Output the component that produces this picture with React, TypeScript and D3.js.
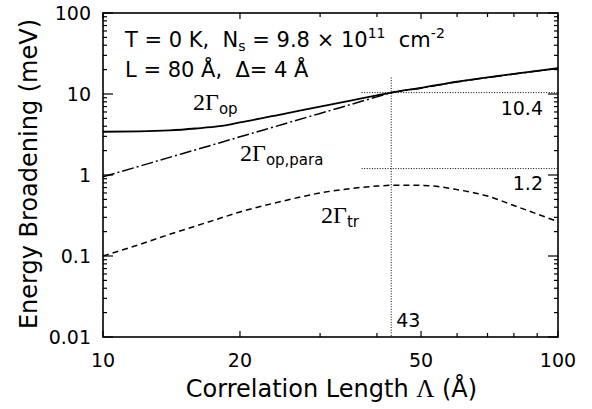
import React from "react";
import * as d3 from "d3";

// correlation length (Å) and broadening values (meV)
const lambdas = [10, 12, 14, 16, 18, 20, 25, 30, 35, 40, 43, 50, 60, 70, 80, 90, 100];
const gammaOp = [3.42, 3.45, 3.55, 3.75, 4.0, 4.45, 5.7, 7.0, 8.3, 9.6, 10.4, 11.9, 14.2, 16.0, 17.7, 19.3, 20.8];
const gammaPara = [0.95, 1.28, 1.65, 2.05, 2.49, 2.96, 4.27, 5.76, 7.41, 9.22, 10.35, 11.8, 14.1, 15.95, 17.6, 19.2, 20.7];
const gammaTr = [0.1, 0.138, 0.185, 0.235, 0.29, 0.35, 0.48, 0.6, 0.68, 0.73, 0.745, 0.745, 0.66, 0.55, 0.42, 0.33, 0.265];

const xMajorTicks = [10, 20, 50, 100];
const xMinorTicks = [30, 40, 60, 70, 80, 90];
const yDecades = [0.01, 0.1, 1, 10, 100];
const yTickLabels = ["0.01", "0.1", "1", "10", "100"];

// dotted guide lines
const crossLambda = 43;
const crossLabel = "43";
const guideStartLambda = 37;
const guideTopValue = 16;
const guideLevels = [10.4, 1.2];
const guideLabels = ["10.4", "1.2"];

const width = 592;
const height = 409;
const margins = { top: 13, right: 34, bottom: 72, left: 103 };

const sans = "'DejaVu Sans', sans-serif";
const serif = "'Liberation Serif', 'Times New Roman', serif";

const App = () => {
  const xScale = d3
    .scaleLog()
    .domain([10, 100])
    .range([margins.left, width - margins.right]);

  const yScale = d3
    .scaleLog()
    .domain([0.01, 100])
    .range([height - margins.bottom, margins.top]);

  const x0 = margins.left;
  const x1 = width - margins.right;
  const y0 = height - margins.bottom;
  const y1 = margins.top;

  const line = d3
    .line<number>()
    .x((d, i) => xScale(lambdas[i]))
    .y((d) => yScale(d))
    .curve(d3.curveMonotoneX);

  // minor y ticks 2..9 in each decade
  const yMinorTicks: number[] = [];
  yDecades.slice(0, -1).forEach((dec) => {
    for (let k = 2; k <= 9; k++) yMinorTicks.push(dec * k);
  });

  const xTicks = [
    ...xMajorTicks.map((v) => ({ v, len: 6 })),
    ...xMinorTicks.map((v) => ({ v, len: 4 })),
  ];
  const yTicks = [
    ...yDecades.map((v) => ({ v, len: 10 })),
    ...yMinorTicks.map((v) => ({ v, len: 4 })),
  ];

  return (
    <svg
      width={width}
      height={height}
      style={{ position: "absolute", left: 0, top: 0, background: "#fff" }}
      fontFamily={sans}
    >
      <rect x={0} y={0} width={width} height={height} fill="#fff" />

      {/* ticks */}
      <g stroke="#000" strokeWidth={1.2}>
        {xTicks.map((t) => (
          <g key={"x" + t.v}>
            <line x1={xScale(t.v)} x2={xScale(t.v)} y1={y0} y2={y0 - t.len} />
            <line x1={xScale(t.v)} x2={xScale(t.v)} y1={y1} y2={y1 + t.len} />
          </g>
        ))}
        {yTicks.map((t) => (
          <g key={"y" + t.v}>
            <line x1={x0} x2={x0 + t.len} y1={yScale(t.v)} y2={yScale(t.v)} />
            <line x1={x1} x2={x1 - t.len} y1={yScale(t.v)} y2={yScale(t.v)} />
          </g>
        ))}
      </g>

      {/* frame */}
      <rect
        x={x0}
        y={y1}
        width={x1 - x0}
        height={y0 - y1}
        fill="none"
        stroke="#000"
        strokeWidth={1.6}
      />

      {/* tick labels */}
      <g fontSize={19} fill="#000">
        {xMajorTicks.map((v) => (
          <text key={v} x={xScale(v)} y={367} textAnchor="middle">
            {v}
          </text>
        ))}
        {yDecades.map((v, i) => (
          <text
            key={v}
            x={91}
            y={yScale(v)}
            dy="0.36em"
            textAnchor="end"
          >
            {yTickLabels[i]}
          </text>
        ))}
      </g>

      {/* axis titles */}
      <text
        x={(x0 + x1) / 2 + 1}
        y={397}
        fontSize={24}
        textAnchor="middle"
        style={{ whiteSpace: "pre" }}
      >
        {"Correlation Length "}
        <tspan fontFamily={serif} fontSize={25}>Λ</tspan>
        {" (Å)"}
      </text>
      <text
        transform={`translate(37, ${(y0 + y1) / 2 - 1}) rotate(-90)`}
        fontSize={24}
        textAnchor="middle"
      >
        Energy Broadening (meV)
      </text>

      {/* dotted guides */}
      <g stroke="#000" strokeWidth={1} strokeDasharray="1,1.6" fill="none">
        <line
          x1={xScale(crossLambda)}
          x2={xScale(crossLambda)}
          y1={yScale(guideTopValue)}
          y2={y0}
        />
        {guideLevels.map((v) => (
          <line
            key={v}
            x1={xScale(guideStartLambda)}
            x2={x1}
            y1={yScale(v)}
            y2={yScale(v)}
          />
        ))}
      </g>
      <g fontSize={19}>
        {guideLevels.map((v, i) => (
          <text key={v} x={543} y={yScale(v) + (i === 0 ? 22 : 21)} textAnchor="end">
            {guideLabels[i]}
          </text>
        ))}
        <text x={xScale(crossLambda) + 5} y={327}>
          {crossLabel}
        </text>
      </g>

      {/* curves */}
      <g fill="none" stroke="#000">
        <path d={line(gammaOp) ?? ""} strokeWidth={1.8} />
        <path
          d={line(gammaPara) ?? ""}
          strokeWidth={1.5}
          strokeDasharray="12,3,2,3"
        />
        <path d={line(gammaTr) ?? ""} strokeWidth={1.5} strokeDasharray="6,4" />
      </g>

      {/* curve labels */}
      <text x={193} y={110} fontFamily={serif} fontSize={24}>
        2Γ
        <tspan fontFamily={sans} fontSize={15} dy={4}>
          op
        </tspan>
      </text>
      <text x={240} y={161} fontFamily={serif} fontSize={24}>
        2Γ
        <tspan fontFamily={sans} fontSize={15} dy={4}>
          op,para
        </tspan>
      </text>
      <text x={321} y={223} fontFamily={serif} fontSize={24}>
        2Γ
        <tspan fontFamily={sans} fontSize={15} dy={4}>
          tr
        </tspan>
      </text>

      {/* parameters */}
      <text x={125} y={47} fontSize={21} style={{ whiteSpace: "pre" }}>
        {"T = 0 K,  N"}
        <tspan fontSize={14} dy={4}>s</tspan>
        <tspan dy={-4}>{" = 9.8 × 10"}</tspan>
        <tspan fontSize={14} dy={-9}>11</tspan>
        <tspan dy={9}>{"  cm"}</tspan>
        <tspan fontSize={14} dy={-9}>-2</tspan>
      </text>
      <text x={125} y={77} fontSize={21} style={{ whiteSpace: "pre" }}>
        {"L = 80 Å,  Δ= 4 Å"}
      </text>
    </svg>
  );
};

export default App;
